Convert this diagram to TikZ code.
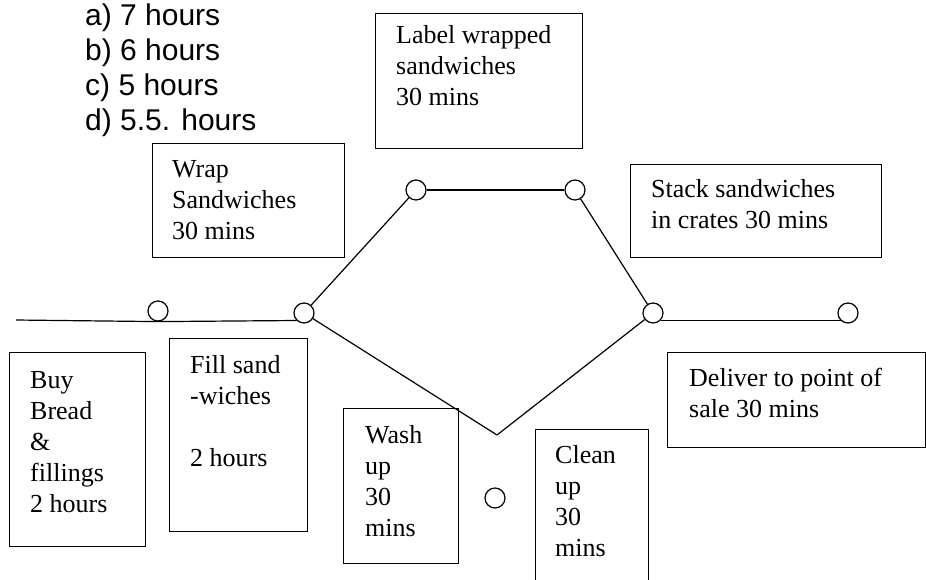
\documentclass[tikz,border=0pt]{standalone}
\usepackage{fontspec}
\setmainfont{Liberation Serif}
\newfontfamily\answerfont{Liberation Sans}

\begin{document}
\begin{tikzpicture}[
  x=1pt, y=-1pt,
  box/.style={rectangle, draw, line width=1.2pt, anchor=north west, inner sep=0pt},
  txt/.style={anchor=base west, align=left, inner sep=0pt, font=\fontsize{26}{31}\selectfont},
  ans/.style={anchor=base west, inner sep=0pt, font=\answerfont\fontsize{30}{35}\selectfont},
  dot/.style={circle, draw, line width=1.2pt, minimum size=20pt, inner sep=0pt},
  ln/.style={line width=1.2pt}
]
  \useasboundingbox (0,0) rectangle (926,579);

  % Answer choices
  \node[ans] (ansa) at (85,25)  {a) 7 hours};
  \node[ans] (ansb) at (85,60)  {b) 6 hours};
  \node[ans] (ansc) at (85,95)  {c) 5 hours};
  \node[ans] (ansd) at (85,130) {d) 5.5. hours};

  % Activity boxes
  \node[box, minimum width=192pt, minimum height=114pt] (wrap)    at (152,143) {};
  \node[box, minimum width=207pt, minimum height=135pt] (label)   at (375,13)  {};
  \node[box, minimum width=251pt, minimum height=93pt]  (stack)   at (630,164) {};
  \node[box, minimum width=136pt, minimum height=194pt] (buy)     at (9,352)   {};
  \node[box, minimum width=138pt, minimum height=193pt] (fill)    at (169,338) {};
  \node[box, minimum width=115pt, minimum height=155pt] (wash)    at (343,408) {};
  \node[box, minimum width=113pt, minimum height=165pt] (clean)   at (535,429) {};
  \node[box, minimum width=258pt, minimum height=95pt]  (deliver) at (667,352) {};

  % texts sit on the baseline of their last line
  \node[txt] (wraptxt)    at (172,239) {Wrap\\Sandwiches\\30 mins};
  \node[txt] (labeltxt)   at (396,105) {Label wrapped\\sandwiches\\30 mins};
  \node[txt] (stacktxt)   at (651,228) {Stack sandwiches\\in crates 30 mins};
  \node[txt] (buytxt)     at (30,512)  {Buy\\Bread\\\&\\fillings\\2 hours};
  \node[txt] (filltxt)    at (190,466) {Fill sand\\-wiches\\[31pt]2 hours};
  \node[txt] (washtxt)    at (365,536) {Wash\\up\\30\\mins};
  \node[txt] (cleantxt)   at (555,556) {Clean\\up\\30\\mins};
  \node[txt] (delivertxt) at (689,417) {Deliver to point of\\sale 30 mins};

  % Network
  \coordinate (start) at (16,320);
  \coordinate (vbot)  at (497,435);
  \node[dot] (ev1)   at (158,311) {};
  \node[dot] (ev2)   at (304,313) {};
  \node[dot] (ev3)   at (416,190) {};
  \node[dot] (ev4)   at (575,190) {};
  \node[dot] (ev5)   at (653,313) {};
  \node[dot] (ev6)   at (848,313) {};
  \node[dot] (lone)  at (495,498) {};

  \draw[ln] (start) -- (ev1.south);
  \draw[ln] (ev1.south) -- (ev2.south west);
  \draw[ln] (ev2) -- (ev3);
  \draw[ln] (ev3) -- (ev4);
  \draw[ln] (ev4) -- (ev5);
  \draw[ln] (ev2) -- (vbot);
  \draw[ln] (vbot) -- (ev5);
  \draw[ln] (ev5.south east) -- (ev6.south west);
\end{tikzpicture}
\end{document}
